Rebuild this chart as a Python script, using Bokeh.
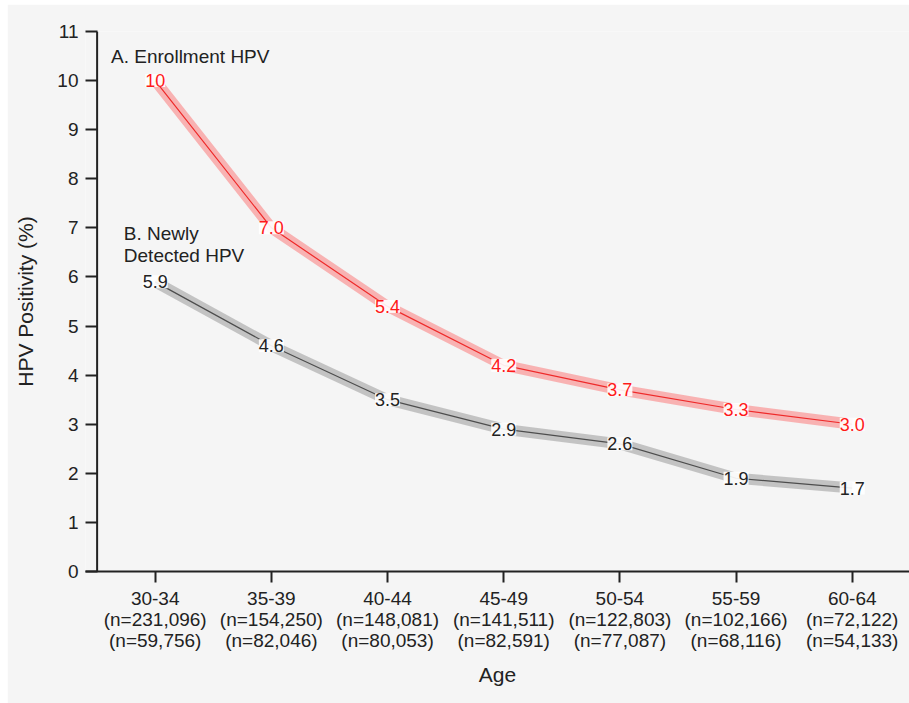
from bokeh.plotting import figure
from bokeh.models import ColumnDataSource, FixedTicker, LabelSet, Label, Range1d, Span
from bokeh.core.properties import value
from bokeh.embed import file_html
from bokeh.resources import INLINE

# Age groups and the number of women screened in each
age_groups = ["30-34", "35-39", "40-44", "45-49", "50-54", "55-59", "60-64"]
n_enrollment = [231096, 154250, 148081, 141511, 122803, 102166, 72122]
n_newly = [59756, 82046, 80053, 82591, 77087, 68116, 54133]

# HPV positivity (%) per age group
enrollment_hpv = [10, 7.0, 5.4, 4.2, 3.7, 3.3, 3.0]
newly_detected_hpv = [5.9, 4.6, 3.5, 2.9, 2.6, 1.9, 1.7]

y_ticks = list(range(0, 12))

FONT = "Liberation Sans"
BG = "#f5f5f5"
INK = "#222222"

x = list(range(len(age_groups)))


def fmt(v):
    return f"{v:.0f}" if v >= 10 else f"{v:.1f}"


p = figure(
    width=902, height=699,
    output_backend="svg", toolbar_location=None,
    x_range=Range1d(-0.6, 6.493), y_range=Range1d(0, 11),
    min_border_left=78, min_border_right=0,
    min_border_top=27, min_border_bottom=132,
    background_fill_color=BG, border_fill_color=BG,
    outline_line_color=None,
)
p.margin = (4, 0, 0, 7)
p.grid.visible = False

# y axis: ticks point right into the frame, line drawn as a span at x=-0.5
yax = p.yaxis[0]
yax.ticker = FixedTicker(ticks=y_ticks)
yax.axis_line_color = None
yax.major_tick_in = 12
yax.major_tick_out = 0
yax.minor_tick_line_color = None
yax.major_tick_line_width = 2
yax.major_tick_line_color = INK
yax.major_label_standoff = 7
yax.major_label_text_font = FONT
yax.major_label_text_font_size = "19px"
yax.major_label_text_color = INK
yax.axis_label = "HPV Positivity (%)"
yax.axis_label_text_font = FONT
yax.axis_label_text_font_size = "21px"
yax.axis_label_text_font_style = "normal"
yax.axis_label_text_color = INK
yax.axis_label_standoff = 17
p.add_layout(Span(location=-0.5, dimension="height", line_color=INK, line_width=2))

# x axis with age group and sample sizes
xax = p.xaxis[0]
xax.ticker = FixedTicker(ticks=x)
xax.major_label_overrides = {
    i: f"{a}\n(n={ne:,})\n(n={nn:,})"
    for i, (a, ne, nn) in enumerate(zip(age_groups, n_enrollment, n_newly))
}
xax.axis_line_width = 2
xax.axis_line_color = INK
xax.major_tick_in = 0
xax.major_tick_out = 11
xax.major_tick_line_width = 2
xax.major_tick_line_color = INK
xax.minor_tick_line_color = None
xax.major_label_standoff = 5
xax.major_label_text_font = FONT
xax.major_label_text_font_size = "19px"
xax.major_label_text_line_height = 1.0
xax.major_label_text_color = INK
xax.axis_label = "Age"
xax.axis_label_text_font = FONT
xax.axis_label_text_font_size = "21px"
xax.axis_label_text_font_style = "normal"
xax.axis_label_text_color = INK
xax.axis_label_standoff = 9

series = [
    (enrollment_hpv, "#ff3333", 0.34, "#ee2a2a", "#ff1a1a"),
    (newly_detected_hpv, "#888888", 0.45, "#4d4d4d", "#222222"),
]

for vals, band_col, band_alpha, line_col, text_col in series:
    src = ColumnDataSource(dict(x=x, y=vals, label=[fmt(v) for v in vals]))
    p.line("x", "y", source=src, line_width=11, line_color=band_col,
           line_alpha=band_alpha, line_join="round")
    p.line("x", "y", source=src, line_width=1.2, line_color=line_col)
    p.add_layout(LabelSet(
        x="x", y="y", text="label", source=src,
        text_align="center", text_baseline="middle",
        text_font=value(FONT), text_font_size=value("18px"),
        text_color=value(text_col),
        background_fill_color="white", background_fill_alpha=0.9,
    ))

for txt, tx, ty in [
    ("A. Enrollment HPV", -0.38, 10.5),
    ("B. Newly", -0.27, 6.885),
    ("Detected HPV", -0.27, 6.437),
]:
    p.add_layout(Label(
        x=tx, y=ty, text=txt, text_align="left", text_baseline="middle",
        text_font=FONT, text_font_size="19px", text_color=INK,
    ))

open("out.html", "w").write(file_html(p, INLINE, title="HPV positivity by age"))
